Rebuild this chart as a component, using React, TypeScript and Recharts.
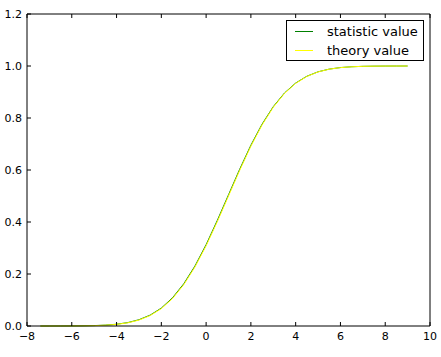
import React from "react"
import {
  LineChart,
  Line,
  XAxis,
  YAxis,
} from "recharts"

const xValues = [
  -7.4, -7, -6.5, -6, -5.5, -5, -4.5, -4, -3.5, -3, -2.5, -2, -1.5, -1, -0.5, 0,
  0.5, 1, 1.5, 2, 2.5, 3, 3.5, 4, 4.5, 5, 5.5, 6, 6.5, 7, 7.5, 8, 8.5, 9,
]

const statisticValues = [
  0.0, 0.0, 0.0001, 0.0003, 0.0007, 0.0016, 0.0034, 0.0068, 0.0131, 0.0241,
  0.0418, 0.0689, 0.1085, 0.1622, 0.2305, 0.3128, 0.4062, 0.5046, 0.6031,
  0.6954, 0.7765, 0.8436, 0.8961, 0.9344, 0.9606, 0.9777, 0.9881, 0.9940,
  0.9971, 0.9987, 0.9994, 0.9998, 0.9999, 1.0,
]

const theoryValues = [
  0.0, 0.0, 0.0001, 0.0002, 0.0006, 0.0013, 0.003, 0.0062, 0.0122, 0.0228,
  0.0401, 0.0668, 0.1056, 0.1587, 0.2266, 0.3085, 0.4013, 0.5, 0.5987, 0.6915,
  0.7734, 0.8413, 0.8944, 0.9332, 0.9599, 0.9772, 0.9878, 0.9938, 0.997,
  0.9987, 0.9994, 0.9998, 0.9999, 1.0,
]

const xTicks = [-8, -6, -4, -2, 0, 2, 4, 6, 8, 10]
const yTicks = [0, 0.2, 0.4, 0.6, 0.8, 1.0, 1.2]

const seriesNames = ["statistic value", "theory value"]
const seriesColors = ["#008000", "#ffff00"]

const data = xValues.map((x, i) => ({
  x,
  statistic: statisticValues[i],
  theory: theoryValues[i],
}))

const FONT = "'DejaVu Sans', sans-serif"
const tickStyle = { fontSize: 11, fill: "#000", fontFamily: FONT }

// matplotlib prints negative ticks with a real minus sign
const fmtX = (v: number) => (v < 0 ? `\u2212${Math.abs(v)}` : `${v}`)

function LegendBox() {
  return (
    <div
      style={{
        position: "absolute",
        left: 286,
        top: 20,
        width: 136,
        height: 39,
        border: "1px solid #000",
        background: "#fff",
        fontFamily: FONT,
        fontSize: 13,
        color: "#000",
      }}
    >
      {seriesNames.map((name, i) => (
        <div
          key={name}
          style={{
            display: "flex",
            alignItems: "center",
            height: 19,
            marginTop: i === 0 ? 1 : 0,
          }}
        >
          <span
            style={{
              display: "inline-block",
              width: 18,
              height: 1,
              marginLeft: 8,
              marginRight: 14,
              background: seriesColors[i],
            }}
          />
          <span style={{ lineHeight: "19px" }}>{name}</span>
        </div>
      ))}
    </div>
  )
}

export default function App() {
  return (
    <div
      style={{
        position: "absolute",
        left: 0,
        top: 0,
        width: 441,
        height: 357,
        background: "#fff",
      }}
    >
      <LineChart
        width={441}
        height={357}
        data={data}
        margin={{ top: 13, right: 10, bottom: 0, left: 0 }}
      >
        <XAxis
          dataKey="x"
          type="number"
          domain={[-8, 10]}
          ticks={xTicks}
          interval={0}
          allowDataOverflow
          height={31}
          tick={tickStyle}
          tickFormatter={fmtX}
          tickSize={-4}
          tickMargin={10}
          axisLine={{ stroke: "#000" }}
          tickLine={{ stroke: "#000" }}
        />
        <XAxis
          xAxisId="top"
          orientation="top"
          dataKey="x"
          type="number"
          domain={[-8, 10]}
          ticks={xTicks}
          interval={0}
          height={1}
          tickFormatter={() => ""}
          tickSize={-4}
          axisLine={{ stroke: "#000" }}
          tickLine={{ stroke: "#000" }}
        />
        <YAxis
          type="number"
          domain={[0, 1.2]}
          ticks={yTicks}
          interval={0}
          width={27}
          tick={tickStyle}
          tickFormatter={(v: number) => v.toFixed(1)}
          tickSize={-4}
          tickMargin={9}
          axisLine={{ stroke: "#000" }}
          tickLine={{ stroke: "#000" }}
        />
        <YAxis
          yAxisId="right"
          orientation="right"
          type="number"
          domain={[0, 1.2]}
          ticks={yTicks}
          interval={0}
          width={1}
          tickFormatter={() => ""}
          tickSize={-4}
          axisLine={{ stroke: "#000" }}
          tickLine={{ stroke: "#000" }}
        />
        <Line
          dataKey="statistic"
          name={seriesNames[0]}
          stroke={seriesColors[0]}
          strokeWidth={1}
          dot={false}
          activeDot={false}
          type="linear"
          isAnimationActive={false}
        />
        <Line
          dataKey="theory"
          name={seriesNames[1]}
          stroke={seriesColors[1]}
          strokeWidth={1}
          dot={false}
          activeDot={false}
          type="linear"
          isAnimationActive={false}
        />
      </LineChart>
      <LegendBox />
    </div>
  )
}
